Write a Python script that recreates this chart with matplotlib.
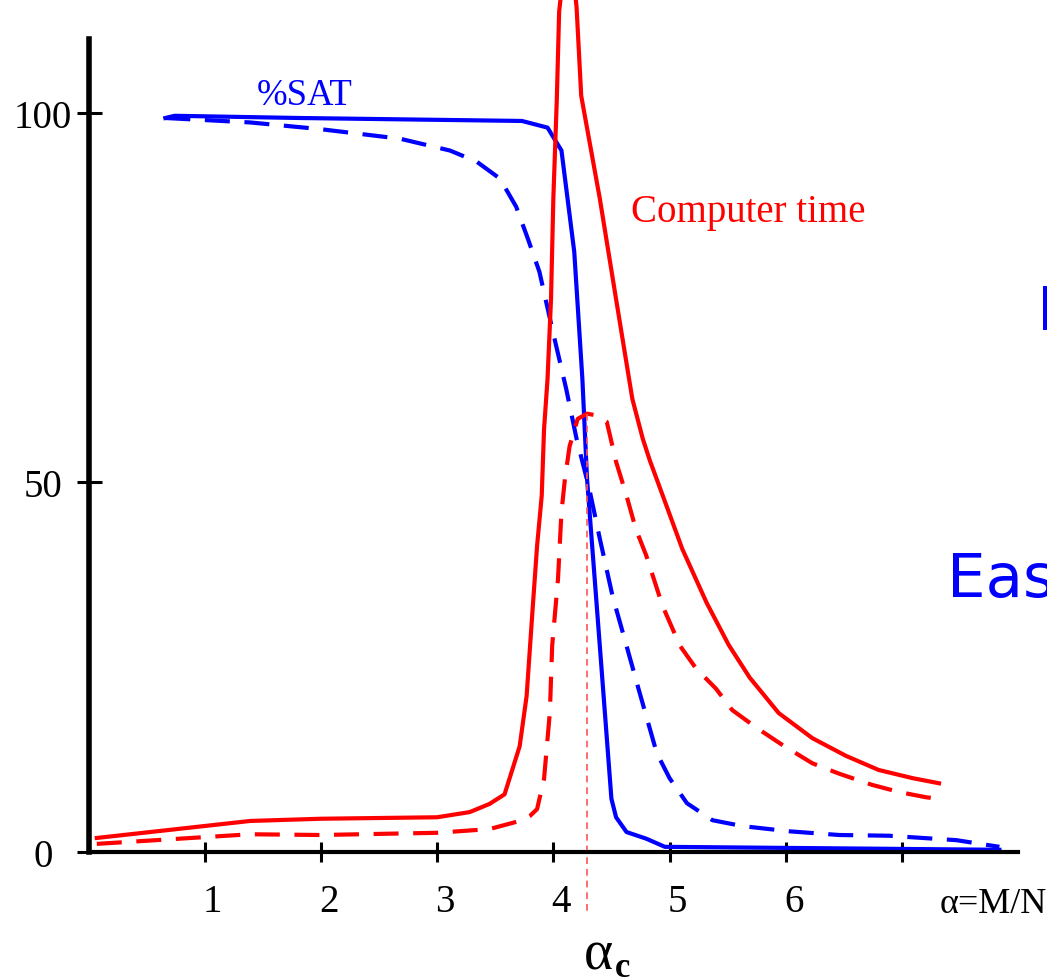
import matplotlib
matplotlib.use('Agg')
import matplotlib.pyplot as plt
import matplotlib.transforms as mtransforms

plt.rcParams['font.family'] = ['Liberation Serif', 'DejaVu Serif']

# %SAT, solide = N grand, tirets = N petit
sat_x = [0.66, 0.74, 1.82, 3.73, 3.95, 4.07, 4.18, 4.25, 4.29, 4.40, 4.50, 4.54, 4.63, 4.80, 4.96, 7.84]
sat_y = [99.3, 99.6, 99.3, 98.9, 98.0, 94.9, 81.2, 64.0, 50.5, 27.9, 7.2, 4.7, 2.7, 1.8, 0.7, 0.3]

sat2_x = [0.66, 1.39, 1.99, 2.68, 3.11, 3.34, 3.54, 3.68, 3.78, 3.88, 3.99, 4.11, 4.20, 4.31,
          4.40, 4.51, 4.63, 4.74, 4.89, 5.00, 5.15, 5.37, 5.63, 6.03, 6.46, 6.89, 7.47, 7.84]
sat2_y = [99.3, 98.7, 97.8, 96.5, 94.9, 93.4, 91.1, 87.3, 83.0, 78.5, 70.8, 62.7, 55.9, 49.1,
          42.4, 34.6, 27.9, 21.7, 13.4, 10.0, 6.6, 4.3, 3.5, 2.8, 2.3, 2.2, 1.6, 0.7]

# temps de calcul
tps_x = [0.07, 1.39, 2.00, 3.00, 3.28, 3.45, 3.58, 3.71, 3.77, 3.82, 3.86, 3.90, 3.92, 3.95,
         3.98, 4.00, 4.03, 4.05, 4.13, 4.20, 4.24, 4.40, 4.54, 4.68, 4.77, 4.83, 4.94, 5.11,
         5.32, 5.51, 5.69, 5.94, 6.23, 6.52, 6.80, 7.09, 7.32]
tps_y = [1.9, 4.2, 4.5, 4.7, 5.4, 6.5, 7.8, 14.3, 21.1, 32.5, 41.4, 48.2, 57.2, 64.0,
         74.8, 88.4, 101.9, 113.7, 125.0, 114.3, 102.3, 88.4, 74.8, 61.3, 55.9, 53.0, 48.3, 41.0,
         33.7, 28.0, 23.6, 18.8, 15.4, 13.0, 11.1, 10.0, 9.3]

tps2_x = [0.07, 1.39, 2.00, 3.00, 3.45, 3.71, 3.80, 3.86, 3.92, 3.97, 3.99, 4.04, 4.07, 4.10,
          4.14, 4.21, 4.29, 4.36, 4.46, 4.54, 4.63, 4.71, 4.80, 4.94, 5.09, 5.23, 5.40, 5.54,
          5.75, 5.97, 6.23, 6.46, 6.74, 6.98, 7.21, 7.32]
tps2_y = [1.1, 2.4, 2.3, 2.6, 3.1, 4.2, 4.9, 5.8, 9.9, 18.9, 27.9, 36.9, 46.0, 50.5,
          54.9, 58.6, 59.3, 59.1, 58.2, 52.8, 48.2, 43.7, 40.1, 33.3, 27.9, 24.8, 22.1, 19.2,
          16.8, 14.5, 12.0, 10.6, 9.1, 8.1, 7.4, 7.2]

alpha_c = 4.29
alpha_c_y = [59.3, -8.4]

xticks = [1, 2, 3, 4, 5, 6, 7]
xlabels = ['1', '2', '3', '4', '5', '6', '']
yticks = [0, 50, 100]
ylabels = ['0', '50', '100']

fig = plt.figure(figsize=(10.47, 9.79), dpi=100)
ax = fig.add_axes([0.0847, 0.1287, 0.8876, 0.8713])

ax.plot(sat_x, sat_y, color='blue', lw=3)
ax.plot(sat2_x, sat2_y, color='blue', lw=3, dashes=(6, 3.5))
ax.plot(tps_x, tps_y, color='red', lw=3)
ax.plot(tps2_x, tps2_y, color='red', lw=3, dashes=(6, 3.5))
ax.plot([alpha_c, alpha_c], alpha_c_y, color='#ff5555', lw=1.2, dashes=(4, 3), clip_on=False)

ax.set_xlim(0, 8)
ax.set_ylim(0, 115.4)
ax.spines['top'].set_visible(False)
ax.spines['right'].set_visible(False)
ax.spines['left'].set_bounds(0, 110)
ax.spines['left'].set_linewidth(4)
ax.spines['bottom'].set_linewidth(3)

ax.set_xticks(xticks)
ax.set_xticklabels(xlabels, fontsize=28)
ax.set_yticks(yticks)
ax.set_yticklabels(ylabels, fontsize=28)
ax.tick_params(axis='y', direction='inout', length=18, width=2.2, pad=24)
ax.tick_params(axis='x', direction='inout', length=14, width=2.2, pad=15)
for lab in ax.get_yticklabels():
    lab.set_horizontalalignment('center')
decal = mtransforms.ScaledTranslation(0.08, 0, fig.dpi_scale_trans)
for lab in ax.get_xticklabels():
    lab.set_transform(lab.get_transform() + decal)

ax.text(1.447, 101.2, '%SAT', color='blue', fontsize=26.5, va='baseline')
ax.text(4.67, 85.4, 'Computer time', color='red', fontsize=28, va='baseline')
ax.text(7.39, 34.6, 'Easy', color='blue', fontsize=44, va='baseline', family='DejaVu Sans')
ax.text(8.16, 70.8, 'Hard', color='blue', fontsize=44, va='baseline', family='DejaVu Sans')

fig.text(940 / 1047, 1 - 913 / 979, 'α=M/N', fontsize=26, va='baseline')
fig.text(584 / 1047, 1 - 970 / 979, 'α', fontsize=40, va='baseline')
fig.text(615 / 1047, 1 - 977 / 979, 'c', fontsize=25, fontweight='bold', va='baseline')

plt.savefig('out.png', dpi=100)
